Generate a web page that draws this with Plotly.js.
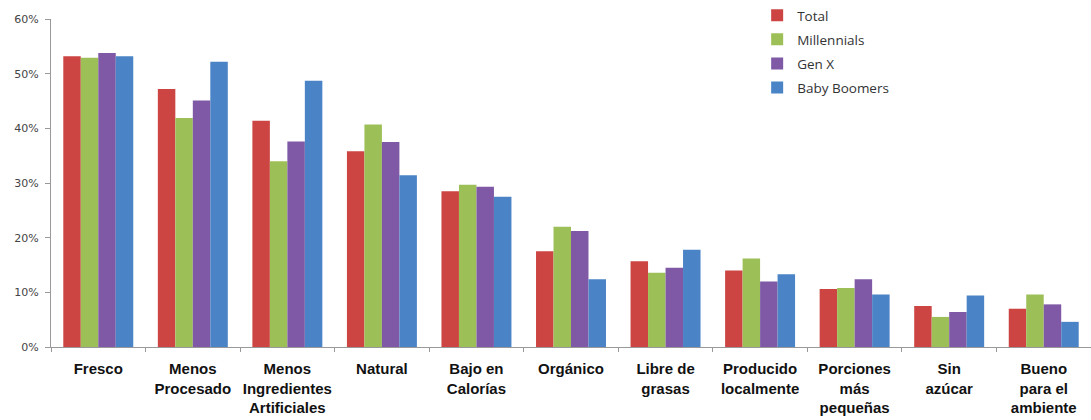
<!DOCTYPE html>
<html>
<head>
<meta charset="utf-8">
<script src="https://cdn.plot.ly/plotly-3.0.1.min.js"></script>
<style>
  html, body { margin: 0; padding: 0; background: #fff; }
  #chart { width: 1091px; height: 420px; }
</style>
</head>
<body>
<div id="chart"></div>
<script>
// Attributes valued by each generation (share of respondents, %)
const categories = [
  "Fresco",
  "Menos<br>Procesado",
  "Menos<br>Ingredientes<br>Artificiales",
  "Natural",
  "Bajo en<br>Calorías",
  "Orgánico",
  "Libre de<br>grasas",
  "Producido<br>localmente",
  "Porciones<br>más<br>pequeñas",
  "Sin<br>azúcar",
  "Bueno<br>para el<br>ambiente"
];

const total        = [53.2, 47.2, 41.4, 35.8, 28.5, 17.5, 15.7, 14.0, 10.6, 7.5, 7.0];
const millennials  = [52.9, 41.9, 34.0, 40.7, 29.7, 22.0, 13.6, 16.2, 10.8, 5.5, 9.6];
const genX         = [53.8, 45.1, 37.6, 37.5, 29.3, 21.2, 14.5, 12.0, 12.4, 6.4, 7.8];
const babyBoomers  = [53.2, 52.2, 48.7, 31.4, 27.5, 12.4, 17.8, 13.3,  9.6, 9.4, 4.6];

const seriesNames  = ["Total", "Millennials", "Gen X", "Baby Boomers"];
const seriesValues = [total, millennials, genX, babyBoomers];
const seriesColors = ["#CC4543", "#9CC057", "#7F59A6", "#4A83C6"];

const traces = seriesNames.map((name, i) => ({
  type: "bar",
  name: name,
  legendgroup: name,
  x: categories,
  y: seriesValues[i],
  marker: { color: seriesColors[i], line: { width: 0 } },
  hoverinfo: "x+y+name"
}));

const layout = {
  width: 1091,
  height: 420,
  margin: { l: 51, r: 0, t: 19, b: 73 },
  paper_bgcolor: "#ffffff",
  plot_bgcolor: "#ffffff",
  barmode: "group",
  bargap: 0.26,
  bargroupgap: 0,
  showlegend: true,
  legend: {
    x: 0.679,
    y: 1.058,
    xanchor: "left",
    yanchor: "top",
    bgcolor: "rgba(255,255,255,0)",
    font: { family: "'Open Sans', 'Liberation Sans', sans-serif", size: 13.5, color: "#333333" },
    tracegroupgap: 3.5,
    itemwidth: 30
  },
  xaxis: {
    type: "category",
    tickson: "boundaries",
    ticks: "outside",
    ticklen: 4,
    tickcolor: "#999999",
    showline: true,
    linecolor: "#999999",
    linewidth: 1,
    showgrid: false,
    zeroline: false,
    tickangle: 0,
    ticklabelstandoff: 8,
    tickfont: { family: "'Liberation Sans', Arial, sans-serif", size: 15, color: "#111111", weight: "bold" },
    fixedrange: true
  },
  yaxis: {
    range: [0, 60],
    dtick: 10,
    ticksuffix: "%",
    ticks: "outside",
    ticklen: 5,
    tickcolor: "#999999",
    showline: true,
    linecolor: "#999999",
    linewidth: 1,
    showgrid: false,
    zeroline: false,
    ticklabelstandoff: 4,
    tickfont: { family: "'DejaVu Sans', sans-serif", size: 11, color: "#444444" },
    fixedrange: true
  }
};

Plotly.newPlot("chart", traces, layout, { displayModeBar: false });
</script>
</body>
</html>
